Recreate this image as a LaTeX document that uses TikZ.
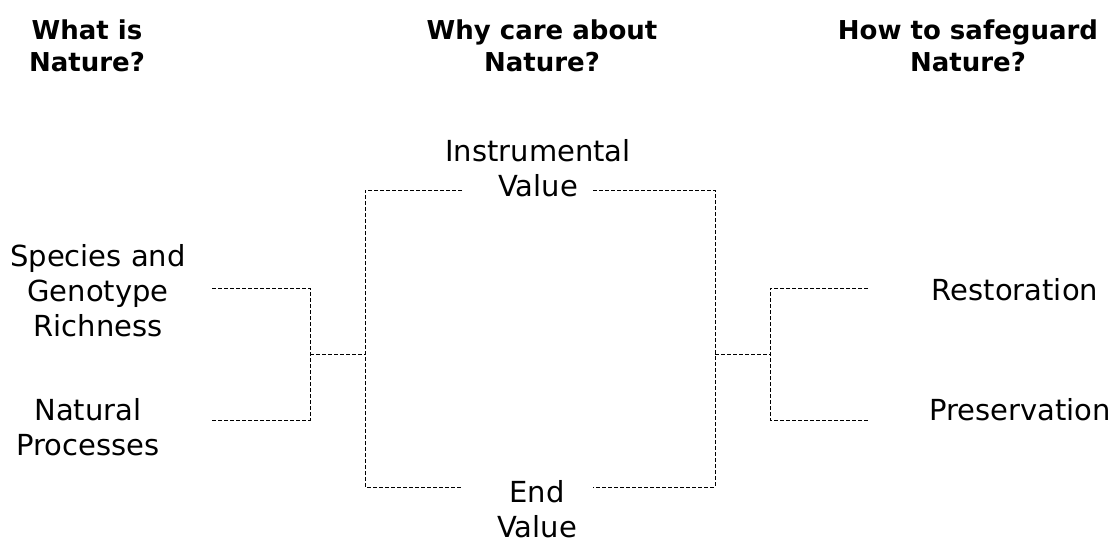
\documentclass[tikz,border=0pt]{standalone}
\usepackage{fontspec}
\setmainfont{DejaVu Sans}
\begin{document}
\begin{tikzpicture}[x=1pt,y=-1pt,
  title/.style={font=\bfseries\fontsize{26}{32}\selectfont, align=center, inner sep=0pt},
  label/.style={font=\fontsize{29}{35}\selectfont, align=center, inner sep=0pt},
  conn/.style={draw=black, line width=0.9pt, dash pattern=on 4pt off 2pt}]
\useasboundingbox (0,0) rectangle (1116,544);
% titles
\node[title] (t1) at (87,46) {What is\\Nature?};
\node[title] (t2) at (542,46) {Why care about\\Nature?};
\node[title] (t3) at (968,46) {How to safeguard\\Nature?};
% labels
\node[label] (spec) at (98,291) {Species and\\Genotype\\Richness};
\node[label] (nat) at (88,427) {Natural\\Processes};
\node[label] (inst) at (538,168) {Instrumental\\Value};
\node[label] (endv) at (537,509) {End\\Value};
\node[label] (rest) at (1015,290) {Restoration};
\node[label] (pres) at (1020,410) {Preservation};
% coordinates
\coordinate (s1) at (212,288);
\coordinate (n1) at (212,420);
\coordinate (lb1) at (310,288);
\coordinate (lb2) at (310,420);
\coordinate (lbm) at (310,354);
\coordinate (bl) at (365,354);
\coordinate (tl) at (365,190);
\coordinate (ti1) at (462,190);
\coordinate (ti2) at (593,190);
\coordinate (tr) at (715,190);
\coordinate (bl2) at (365,487);
\coordinate (be1) at (462,487);
\coordinate (be2) at (593,487);
\coordinate (br) at (715,487);
\coordinate (rm) at (715,354);
\coordinate (rbm) at (770,354);
\coordinate (rb1) at (770,288);
\coordinate (rb2) at (770,420);
\coordinate (r1) at (868,288);
\coordinate (p1) at (868,420);
% connectors
\draw[conn] (s1) -- (lb1) -- (lb2) -- (n1);
\draw[conn] (lbm) -- (bl);
\draw[conn] (ti1) -- (tl) -- (bl2) -- (be1);
\draw[conn] (ti2) -- (tr) -- (br) -- (be2);
\draw[conn] (rm) -- (rbm);
\draw[conn] (r1) -- (rb1) -- (rb2) -- (p1);
\end{tikzpicture}
\end{document}
